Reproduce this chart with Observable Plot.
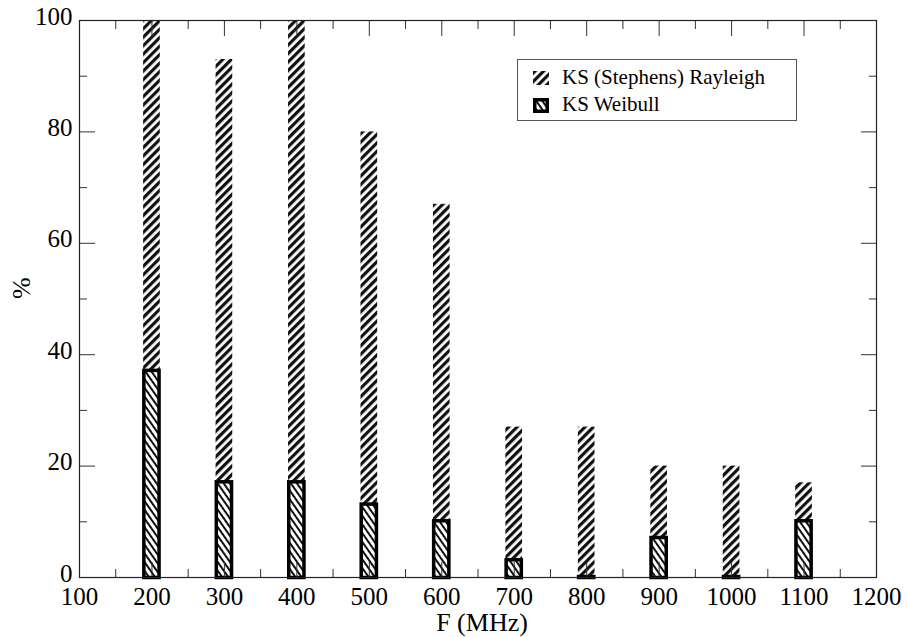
<!DOCTYPE html>
<html><head><meta charset="utf-8">
<script src="https://cdn.jsdelivr.net/npm/d3@7"></script>
<script src="https://cdn.jsdelivr.net/npm/@observablehq/plot@0.6"></script>
<style>
body{margin:0;background:#fff;}
#wrap{position:relative;width:907px;height:637px;}
#legend{position:absolute;left:517px;top:59px;width:280px;height:62px;box-sizing:border-box;border:1.2px solid #555;background:#fff;}
#legend .sw{position:absolute;}
#legend .lab{position:absolute;left:44px;font-family:'Liberation Serif';font-size:21px;line-height:21px;color:#000;white-space:nowrap;}
</style></head><body><div id="wrap"></div>
<script>
const freqs = [200, 300, 400, 500, 600, 700, 800, 900, 1000, 1100];
const rayleigh = [100, 93, 100, 80, 67, 27, 27, 20, 20, 17];
const weibull = [37, 17, 17, 13, 10, 3, 0, 7, 0, 10];
const seriesNames = ["KS (Stephens) Rayleigh", "KS Weibull"];
const xTicks = [100, 200, 300, 400, 500, 600, 700, 800, 900, 1000, 1100, 1200];
const xMinor = [150, 250, 350, 450, 550, 650, 750, 850, 950, 1050, 1150];
const yTicks = [0, 20, 40, 60, 80, 100];
const yMinor = [10, 30, 50, 70, 90];
const xLabel = "F (MHz)";
const yLabel = "%";

const FONT = "Liberation Serif";
const data = freqs.map((f, i) => ({f, rayleigh: rayleigh[i], weibull: weibull[i]}));
const tickColor = "#333";
const blank = () => "";
const plain = d => String(d);

const svg = Plot.plot({
  width: 907, height: 637,
  marginLeft: 79, marginRight: 31, marginTop: 20, marginBottom: 60,
  style: {background: "#fff", color: "#000"},
  x: {domain: [100, 1200]},
  y: {domain: [0, 100]},
  marks: [
    Plot.rectY(data, {x1: d => d.f - 11.5, x2: d => d.f + 11.5, y: "rayleigh", fill: "url(#hatchR)"}),
    Plot.rectY(data, {x1: d => d.f - 10.5, x2: d => d.f + 10.5, y: "weibull", fill: "url(#hatchW)", stroke: "#000", strokeWidth: 3.5, insetTop: -0.5, insetBottom: -0.5}),
    Plot.axisX({anchor: "bottom", ticks: xTicks, tickSize: 0, tickPadding: 10, fontSize: 25, tickFormat: plain, label: null}),
    Plot.axisY({anchor: "left", ticks: yTicks, tickSize: 0, tickPadding: 7, fontSize: 25, dy: -4, tickFormat: plain, label: null}),
    Plot.axisX({anchor: "bottom", ticks: xTicks, tickSize: -15, tickFormat: blank, label: null, stroke: tickColor}),
    Plot.axisX({anchor: "bottom", ticks: xMinor, tickSize: -8, tickFormat: blank, label: null, stroke: tickColor}),
    Plot.axisX({anchor: "top", ticks: xTicks, tickSize: -15, tickFormat: blank, label: null, stroke: tickColor}),
    Plot.axisX({anchor: "top", ticks: xMinor, tickSize: -8, tickFormat: blank, label: null, stroke: tickColor}),
    Plot.axisY({anchor: "left", ticks: yTicks, tickSize: -16, tickFormat: blank, label: null, stroke: tickColor}),
    Plot.axisY({anchor: "left", ticks: yMinor, tickSize: -8, tickFormat: blank, label: null, stroke: tickColor}),
    Plot.axisY({anchor: "right", ticks: yTicks, tickSize: -16, tickFormat: blank, label: null, stroke: tickColor}),
    Plot.axisY({anchor: "right", ticks: yMinor, tickSize: -8, tickFormat: blank, label: null, stroke: tickColor}),
    Plot.frame({stroke: "#222", strokeWidth: 1.2}),
    Plot.text([xLabel], {frameAnchor: "bottom", dx: 4, dy: 53, lineAnchor: "bottom", fontSize: 26}),
    Plot.text([yLabel], {frameAnchor: "left", dx: -58, rotate: -90, fontSize: 26})
  ]
});
svg.setAttribute("font-family", FONT);

function addPatterns(node) {
  const defs = d3.select(node).insert("defs", ":first-child");
  const pr = defs.append("pattern").attr("id", "hatchR").attr("patternUnits", "userSpaceOnUse")
    .attr("width", 6).attr("height", 6).attr("patternTransform", "rotate(45)");
  pr.append("rect").attr("width", 6).attr("height", 6).attr("fill", "#fff");
  pr.append("rect").attr("width", 3.2).attr("height", 6).attr("fill", "#111");
  const pw = defs.append("pattern").attr("id", "hatchW").attr("patternUnits", "userSpaceOnUse")
    .attr("width", 5).attr("height", 5).attr("patternTransform", "rotate(-35)");
  pw.append("rect").attr("width", 5).attr("height", 5).attr("fill", "#fff");
  pw.append("rect").attr("width", 2).attr("height", 5).attr("fill", "#111");
}
addPatterns(svg);
const wrap = document.getElementById("wrap");
wrap.appendChild(svg);

// legend (HTML overlay inside the plot area)
const lg = d3.select(wrap).append("div").attr("id", "legend");
const sw1 = lg.append("svg").attr("class", "sw").style("left", "15px").style("top", "11px").attr("width", 16).attr("height", 14);
sw1.append("rect").attr("width", 16).attr("height", 14).attr("fill", "url(#hatchR)");
const sw2 = lg.append("svg").attr("class", "sw").style("left", "15px").style("top", "38px").attr("width", 16).attr("height", 15);
sw2.append("rect").attr("x", 1.75).attr("y", 1.75).attr("width", 12.5).attr("height", 11.5)
  .attr("fill", "url(#hatchW)").attr("stroke", "#000").attr("stroke-width", 3.5);
lg.selectAll("div.lab").data(seriesNames).join("div").attr("class", "lab")
  .style("top", (d, i) => (i === 0 ? 7.4 : 34.1) + "px")
  .text(d => d);
</script></body></html>
